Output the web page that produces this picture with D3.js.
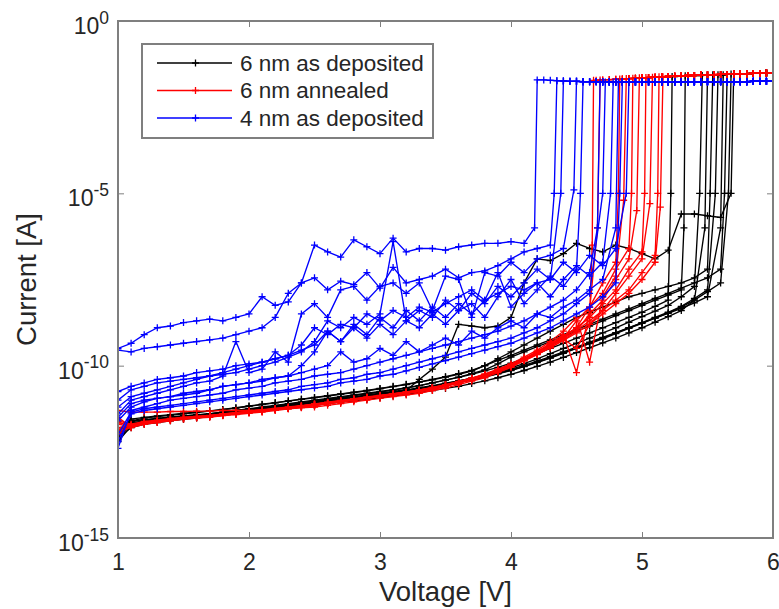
<!DOCTYPE html>
<html>
<head>
<meta charset="utf-8">
<script src="https://cdn.jsdelivr.net/npm/d3@7"></script>
<style>
  body { margin: 0; background: #fff; }
  svg { display: block; font-family: "Liberation Sans", Arial, sans-serif; }
</style>
</head>
<body>
<div id="chart"></div>
<script>
// Sweep grid (V) and compliance grid
const sweepStart = 1.0
const sweepStep = 0.1
const complianceStep = 0.05

// log10(I) values, one row per sweep, V = 1.0, 1.1, ...
const blackCurves = [
  [-12.1,-11.7,-11.62,-11.56,-11.52,-11.47,-11.44,-11.4,-11.35,-11.3,-11.25,-11.2,-11.15,-11.1,-11.05,-11.0,-10.95,-10.9,-10.85,-10.8,-10.75,-10.7,-10.64,-10.58,-10.5,-10.42,-10.34,-10.25,-10.15,-10.05,-9.93,-9.8,-9.65,-9.5,-9.35,-9.2,-9.05,-8.9,-8.75,-8.6,-8.45,-8.28,-8.1],
  [-11.95,-11.6,-11.58,-11.53,-11.5,-11.46,-11.43,-11.4,-11.36,-11.31,-11.26,-11.22,-11.17,-11.12,-11.07,-11.02,-10.97,-10.92,-10.87,-10.82,-10.77,-10.71,-10.65,-10.58,-10.5,-10.42,-10.33,-10.23,-10.12,-9.95,-9.75,-9.6,-9.45,-9.3,-9.15,-9.0,-8.85,-8.7,-8.55,-8.4,-8.25,-8.1,-7.95,-7.8],
  [-12.2,-11.75,-11.65,-11.6,-11.55,-11.52,-11.49,-11.46,-11.42,-11.37,-11.32,-11.27,-11.22,-11.17,-11.12,-11.07,-11.02,-10.98,-10.93,-10.88,-10.83,-10.78,-10.72,-10.66,-10.6,-10.52,-10.44,-10.36,-10.27,-10.17,-10.06,-9.94,-9.8,-9.65,-9.5,-9.35,-9.2,-9.05,-8.9,-8.74,-8.58,-8.42,-8.25,-8.0,-7.7],
  [-12.1,-11.8,-11.7,-11.65,-11.6,-11.56,-11.52,-11.48,-11.44,-11.4,-11.36,-11.32,-11.28,-11.24,-11.2,-11.15,-11.1,-11.06,-11.02,-10.98,-10.93,-10.88,-10.83,-10.78,-10.72,-10.66,-10.6,-10.52,-10.44,-10.35,-10.25,-10.14,-10.02,-9.9,-9.76,-9.62,-9.48,-9.34,-9.2,-9.05,-8.9,-8.74,-8.58,-8.4,-8.1],
  [-11.9,-11.55,-11.5,-11.46,-11.42,-11.38,-11.35,-11.31,-11.27,-11.22,-11.17,-11.12,-11.07,-11.02,-10.97,-10.92,-10.87,-10.82,-10.77,-10.72,-10.66,-10.6,-10.54,-10.47,-10.4,-10.32,-10.23,-10.14,-10.0,-9.8,-9.6,-9.4,-9.2,-9.0,-8.8,-8.6,-8.45,-8.3,-8.15,-8.0,-7.9,-7.8,-7.7,-7.6,-7.45,-7.2],
  [-12.05,-11.68,-11.62,-11.57,-11.53,-11.5,-11.47,-11.44,-11.4,-11.35,-11.3,-11.26,-11.21,-11.16,-11.11,-11.06,-11.01,-10.97,-10.93,-10.88,-10.83,-10.78,-10.73,-10.67,-10.61,-10.54,-10.47,-10.4,-10.32,-10.23,-10.13,-10.02,-9.9,-9.77,-9.63,-9.49,-9.35,-9.2,-9.05,-8.9,-8.75,-8.6,-8.45,-8.28,-8.05,-7.8],
  [-11.95,-11.62,-11.57,-11.53,-11.49,-11.46,-11.43,-11.39,-11.35,-11.3,-11.26,-11.22,-11.18,-11.13,-11.08,-11.03,-10.98,-10.94,-10.9,-10.85,-10.8,-10.75,-10.7,-10.64,-10.58,-10.51,-10.44,-10.37,-10.29,-10.2,-10.1,-9.99,-9.87,-9.74,-9.6,-9.46,-9.32,-9.18,-9.04,-8.9,-8.76,-8.62,-8.48,-8.34,-8.18,-8.0],
  [-12.15,-11.6,-11.52,-11.48,-11.44,-11.4,-11.36,-11.32,-11.28,-11.23,-11.18,-11.13,-11.08,-11.03,-10.98,-10.93,-10.88,-10.83,-10.78,-10.73,-10.67,-10.61,-10.55,-10.48,-10.41,-10.33,-10.25,-10.16,-10.0,-9.85,-9.7,-9.55,-9.4,-9.25,-9.1,-8.95,-8.8,-8.65,-8.5,-8.35,-8.2,-8.05,-7.9,-7.75,-7.6,-7.45,-7.2],
  [-12.0,-11.7,-11.64,-11.59,-11.55,-11.51,-11.48,-11.45,-11.41,-11.37,-11.32,-11.28,-11.24,-11.19,-11.14,-11.09,-11.04,-11.0,-10.95,-10.9,-10.85,-10.8,-10.75,-10.69,-10.63,-10.56,-10.49,-10.41,-10.33,-10.24,-10.14,-10.03,-9.91,-9.78,-9.64,-9.5,-9.36,-9.22,-9.07,-8.92,-8.77,-8.62,-8.47,-8.3,-8.1,-7.85,-7.6],
  [-12.1,-11.66,-11.6,-11.55,-11.51,-11.48,-11.45,-11.42,-11.38,-11.33,-11.28,-11.24,-11.2,-11.15,-11.1,-11.05,-11.0,-10.96,-10.92,-10.87,-10.82,-10.77,-10.72,-10.4,-10.1,-9.75,-8.8,-8.85,-8.9,-8.85,-8.6,-7.6,-6.9,-6.95,-6.75,-6.45,-6.6,-6.7,-6.5,-6.6,-6.75,-6.9,-6.65,-5.6,-5.6,-5.65,-5.7]
]
const blackBreakdown = [5.23, 5.33, 5.46, 5.5, 5.54, 5.58, 5.62, 5.65, 5.68, 5.7]
const blackJump = [-5.0, -6.0, -5.0, -6.0, -5.0, -5.0, -6.0, -5.0, -5.0, -5.0]

const redCurves = [
  [-11.3,-11.35,-11.35,-11.35,-11.33,-11.33,-11.32,-11.32,-11.3,-11.3,-11.3,-11.28,-11.27,-11.25,-11.22,-11.2,-11.15,-11.1,-11.05,-11.0,-10.95,-10.9,-10.85,-10.8,-10.72,-10.65,-10.55,-10.45,-10.35,-10.2,-10.05,-9.85,-9.65,-9.4,-9.15,-8.9,-8.6],
  [-11.9,-11.8,-11.7,-11.65,-11.6,-11.55,-11.52,-11.5,-11.45,-11.42,-11.38,-11.35,-11.3,-11.25,-11.2,-11.15,-11.1,-11.05,-11.0,-10.95,-10.9,-10.85,-10.8,-10.75,-10.7,-10.6,-10.5,-10.4,-10.3,-10.15,-10.0,-9.8,-9.6,-9.35,-9.1,-10.2,-8.4],
  [-12.0,-11.75,-11.65,-11.6,-11.55,-11.5,-11.48,-11.45,-11.42,-11.38,-11.35,-11.3,-11.27,-11.22,-11.18,-11.12,-11.08,-11.03,-10.98,-10.93,-10.88,-10.83,-10.78,-10.72,-10.65,-10.57,-10.48,-10.38,-10.27,-10.13,-9.98,-9.8,-9.6,-9.4,-9.2,-8.9,-8.3,-7.6,-7.0],
  [-11.6,-11.7,-11.62,-11.58,-11.53,-11.5,-11.47,-11.44,-11.4,-11.36,-11.32,-11.28,-11.24,-11.2,-11.16,-11.11,-11.06,-11.01,-10.96,-10.91,-10.86,-10.81,-10.76,-10.7,-10.63,-10.55,-10.46,-10.36,-10.24,-10.1,-9.95,-9.75,-9.55,-9.3,-9.0,-8.6,-9.9,-8.0,-7.4],
  [-11.8,-11.72,-11.66,-11.6,-11.56,-11.52,-11.49,-11.46,-11.43,-11.39,-11.35,-11.31,-11.27,-11.23,-11.19,-11.14,-11.09,-11.04,-10.99,-10.94,-10.89,-10.84,-10.79,-10.73,-10.66,-10.58,-10.5,-10.4,-10.28,-10.15,-10.0,-9.82,-9.62,-9.42,-9.2,-8.7,-8.3,-7.9,-7.2,-6.6],
  [-11.5,-11.78,-11.68,-11.63,-11.58,-11.54,-11.5,-11.47,-11.44,-11.4,-11.36,-11.32,-11.28,-11.24,-11.2,-11.15,-11.1,-11.05,-11.0,-10.95,-10.9,-10.85,-10.8,-10.74,-10.67,-10.59,-10.5,-10.41,-10.3,-10.17,-10.02,-9.85,-9.67,-9.48,-9.25,-9.0,-8.5,-8.1,-7.5,-6.9],
  [-11.7,-11.76,-11.67,-11.62,-11.57,-11.53,-11.5,-11.46,-11.42,-11.38,-11.34,-11.3,-11.26,-11.22,-11.17,-11.12,-11.07,-11.02,-10.97,-10.92,-10.87,-10.82,-10.77,-10.71,-10.64,-10.56,-10.47,-10.37,-10.26,-10.12,-9.97,-9.8,-9.6,-9.38,-9.15,-8.9,-8.6,-8.2,-7.8,-7.2,-6.7],
  [-11.85,-11.74,-11.66,-11.61,-11.56,-11.52,-11.48,-11.45,-11.41,-11.37,-11.33,-11.29,-11.25,-11.21,-11.17,-11.13,-11.08,-11.03,-10.98,-10.93,-10.88,-10.83,-10.78,-10.72,-10.65,-10.57,-10.48,-10.38,-10.27,-10.14,-10.0,-9.83,-9.64,-9.44,-9.22,-9.5,-8.8,-8.4,-7.9,-7.4,-6.9],
  [-11.65,-11.73,-11.65,-11.6,-11.55,-11.51,-11.48,-11.45,-11.41,-11.37,-11.33,-11.29,-11.25,-11.21,-11.17,-11.12,-11.07,-11.02,-10.97,-10.92,-10.87,-10.82,-10.77,-10.71,-10.64,-10.56,-10.47,-10.37,-10.26,-10.13,-9.98,-9.82,-9.63,-9.43,-9.21,-8.98,-8.7,-8.4,-8.1,-7.8,-7.3,-6.8],
  [-11.9,-11.77,-11.69,-11.64,-11.59,-11.55,-11.51,-11.48,-11.44,-11.4,-11.36,-11.32,-11.28,-11.24,-11.2,-11.15,-11.1,-11.05,-11.0,-10.95,-10.9,-10.85,-10.8,-10.74,-10.67,-10.59,-10.5,-10.4,-10.29,-10.16,-10.02,-9.86,-9.68,-9.48,-9.27,-9.05,-8.8,-8.5,-8.2,-7.9,-7.5,-7.0]
]
const redBreakdown = [4.63, 4.68, 4.83, 4.88, 4.93, 4.98, 5.03, 5.08, 5.13, 5.16]
const redJump = [-6.5, -6.0, -5.0, -5.2, -5.0, -5.5, -5.0, -5.3, -5.0, -5.4]

const blueCurves = [
  [-9.5,-9.35,-9.1,-8.9,-8.85,-8.75,-8.7,-8.65,-8.7,-8.6,-8.5,-8.0,-8.25,-8.15,-7.6,-6.5,-6.7,-6.85,-6.35,-6.55,-6.75,-6.3,-6.7,-6.6,-6.6,-6.65,-6.55,-6.5,-6.45,-6.45,-6.4,-6.45],
  [-9.55,-9.6,-9.5,-9.45,-9.4,-9.35,-9.3,-9.25,-9.2,-9.1,-9.0,-8.9,-8.6,-7.9,-7.6,-7.45,-7.8,-7.55,-7.65,-7.3,-7.75,-7.15,-7.6,-7.5,-7.4,-7.2,-7.45,-7.3,-7.25,-7.1,-6.9,-6.7,-6.6,-6.5],
  [-10.75,-10.6,-10.5,-10.4,-10.35,-10.3,-10.2,-10.15,-10.1,-10.0,-9.95,-9.9,-9.8,-9.7,-9.4,-8.9,-9.1,-8.8,-8.9,-8.5,-8.7,-8.4,-8.6,-8.3,-8.45,-8.2,-8.0,-7.8,-8.1,-7.9,-7.7,-7.8,-7.6,-7.5],
  [-11.4,-11.0,-10.9,-10.8,-10.7,-10.6,-10.5,-10.45,-10.3,-9.3,-10.2,-10.1,-9.6,-9.9,-8.5,-8.2,-8.6,-7.8,-7.7,-8.1,-7.7,-7.6,-7.9,-7.6,-8.4,-7.4,-7.5,-8.6,-7.3,-7.4,-7.0,-7.3,-6.9,-6.8,-6.6],
  [-11.6,-11.2,-11.05,-10.95,-10.9,-10.8,-10.75,-10.7,-10.6,-10.55,-10.5,-10.45,-10.35,-10.3,-10.0,-9.6,-9.0,-9.3,-8.9,-9.2,-8.8,-9.1,-8.7,-8.9,-8.5,-8.8,-8.4,-8.2,-8.6,-8.0,-7.5,-8.2,-7.8,-7.4,-7.7,-7.2],
  [-12.4,-11.3,-11.2,-11.1,-11.0,-10.95,-10.9,-10.85,-10.8,-10.7,-10.65,-10.6,-10.5,-10.45,-10.4,-10.3,-10.25,-10.2,-10.1,-10.0,-9.9,-9.8,-9.7,-9.6,-9.5,-9.4,-9.3,-9.2,-9.1,-9.0,-8.85,-8.7,-8.5,-8.3,-8.1,-7.8,-7.3],
  [-12.0,-11.35,-11.25,-11.2,-11.15,-11.1,-11.05,-11.0,-10.95,-10.9,-10.85,-10.8,-10.75,-10.7,-10.6,-10.55,-10.5,-10.4,-10.35,-10.25,-10.2,-10.1,-10.0,-9.9,-9.8,-9.7,-9.6,-9.5,-9.4,-9.3,-9.2,-9.05,-8.9,-8.7,-8.5,-8.2,-7.9],
  [-11.2,-10.9,-10.8,-10.7,-10.6,-10.5,-10.4,-10.3,-10.2,-10.1,-10.0,-9.9,-9.8,-9.7,-9.55,-9.4,-9.0,-9.3,-8.8,-9.1,-8.6,-8.9,-8.4,-8.7,-8.3,-8.6,-8.2,-8.5,-8.1,-7.3,-8.3,-7.9,-7.6,-8.0,-7.5,-7.1,-7.4,-7.0],
  [-11.5,-11.1,-11.0,-10.95,-10.9,-10.85,-10.8,-10.7,-10.6,-10.55,-10.5,-10.4,-10.35,-10.3,-10.2,-10.1,-10.0,-9.6,-9.9,-9.8,-9.5,-9.7,-9.3,-9.6,-9.4,-9.2,-9.4,-9.0,-9.2,-8.9,-8.7,-8.9,-8.5,-8.6,-8.3,-8.1,-7.8,-7.5],
  [-12.2,-11.4,-11.3,-11.25,-11.2,-11.15,-11.1,-11.05,-11.0,-10.95,-10.9,-10.85,-10.8,-10.75,-10.7,-10.65,-10.6,-10.5,-10.45,-10.4,-10.3,-10.25,-10.15,-10.05,-9.95,-9.85,-9.75,-9.65,-9.55,-9.45,-9.35,-9.2,-9.05,-8.9,-8.7,-8.5,-8.3,-8.0,-7.6],
  [-11.0,-10.7,-10.6,-10.5,-10.45,-10.4,-10.35,-10.3,-10.25,-10.2,-10.1,-10.0,-9.9,-9.75,-9.6,-9.3,-8.7,-8.9,-8.6,-8.8,-8.5,-6.4,-8.7,-8.4,-8.6,-8.1,-8.4,-7.9,-8.2,-7.7,-8.0,-7.6,-7.2,-7.5,-7.0,-7.3,-6.8,-7.1,-6.6]
]
const blueBreakdown = [4.2, 4.35, 4.4, 4.5, 4.55, 4.68, 4.72, 4.78, 4.82, 4.85, 4.9]
const blueJump = [-6.0, -5.0, -5.0, -4.9, -5.0, -6.0, -5.0, -5.0, -6.0, -5.0, -5.0]

// compliance plateau after breakdown, log10(I) every 0.05 V
const blackComplianceStart = 5.2
const blackCompliance = [-1.62,-1.61,-1.6,-1.59,-1.58,-1.58,-1.57,-1.56,-1.56,-1.55,-1.54,-1.54,-1.53,-1.52,-1.52,-1.51,-1.5]
const redComplianceStart = 4.6
const redCompliance = [-1.73,-1.72,-1.71,-1.7,-1.69,-1.68,-1.67,-1.66,-1.65,-1.64,-1.63,-1.62,-1.61,-1.6,-1.59,-1.58,-1.58,-1.57,-1.57,-1.56,-1.55,-1.55,-1.54,-1.53,-1.53,-1.52,-1.52,-1.51,-1.51]
const blueComplianceStart = 4.2
const blueCompliance = [-1.71,-1.71,-1.72,-1.73,-1.74,-1.75,-1.75,-1.76,-1.76,-1.76,-1.77,-1.77,-1.77,-1.77,-1.77,-1.77,-1.77,-1.77,-1.77,-1.77,-1.77,-1.77,-1.77,-1.77,-1.77,-1.76,-1.76,-1.76,-1.76,-1.76,-1.76,-1.76,-1.76,-1.75,-1.75,-1.75,-1.75]

const legendLabels = ["6 nm as deposited", "6 nm annealed", "4 nm as deposited"]
const xTicks = [1, 2, 3, 4, 5, 6]
const yTicks = [1e-15, 1e-10, 1e-5, 1]
const yTickExp = ["-15", "-10", "-5", "0"]

// Variables
let dimensions = {
  width: 779,
  height: 609,
  margin: { top: 21, right: 6, bottom: 71, left: 118 },
}
dimensions.boundedWidth = dimensions.width - dimensions.margin.left - dimensions.margin.right
dimensions.boundedHeight = dimensions.height - dimensions.margin.top - dimensions.margin.bottom

const axisColor = "#7f7f7f"
const textColor = "#262626"

const wrapper = d3.select("#chart")
  .append("svg")
  .attr("width", dimensions.width)
  .attr("height", dimensions.height)
const bounds = wrapper.append("g")
  .attr("transform", `translate(${dimensions.margin.left},${dimensions.margin.top})`)

// Scales
const xScale = d3.scaleLinear()
  .domain([1, 6])
  .range([0, dimensions.boundedWidth])
const yScale = d3.scaleLog()
  .domain([1e-15, 1])
  .range([dimensions.boundedHeight, 0])

// build one sweep: measured points, jump point, then compliance plateau
const buildSweep = (pre, breakdown, jump, compStart, comp) => {
  const pts = pre.map((v, i) => [sweepStart + i * sweepStep, v])
  const lastV = pts[pts.length - 1][0]
  pts.push([Math.max(breakdown - 0.02, lastV + 0.02), jump])
  const compV = comp.map((v, i) => [compStart + i * complianceStep, v])
  const nearest = compV.reduce((a, b) => Math.abs(b[0] - breakdown) < Math.abs(a[0] - breakdown) ? b : a)
  pts.push([breakdown, nearest[1]])
  compV.filter(d => d[0] > breakdown + 0.01).forEach(d => pts.push(d))
  return pts
}

const families = [
  { color: "#000000", curves: blackCurves, bd: blackBreakdown, jump: blackJump, cs: blackComplianceStart, comp: blackCompliance },
  { color: "#ff0000", curves: redCurves, bd: redBreakdown, jump: redJump, cs: redComplianceStart, comp: redCompliance },
  { color: "#0000ff", curves: blueCurves, bd: blueBreakdown, jump: blueJump, cs: blueComplianceStart, comp: blueCompliance },
]

const lineGen = d3.line()
  .x(d => xScale(d[0]))
  .y(d => yScale(Math.pow(10, d[1])))

const plusPath = (pts, s) => pts.map(d => {
  const px = xScale(d[0]), py = yScale(Math.pow(10, d[1]))
  return `M${px - s},${py}h${2 * s}M${px},${py - s}v${2 * s}`
}).join("")

bounds.append("defs").append("clipPath")
  .attr("id", "plot-clip")
  .append("rect")
  .attr("width", dimensions.boundedWidth)
  .attr("height", dimensions.boundedHeight)

const plot = bounds.append("g").attr("clip-path", "url(#plot-clip)")

families.forEach(fam => {
  const g = plot.append("g")
  fam.curves.forEach((pre, i) => {
    const pts = buildSweep(pre, fam.bd[i], fam.jump[i], fam.cs, fam.comp)
    g.append("path")
      .attr("d", lineGen(pts))
      .attr("fill", "none")
      .attr("stroke", fam.color)
      .attr("stroke-width", 1.35)
      .attr("stroke-linejoin", "round")
    g.append("path")
      .attr("d", plusPath(pts, 3.5))
      .attr("fill", "none")
      .attr("stroke", fam.color)
      .attr("stroke-width", 1.3)
  })
})

// axes (ticks inward on all four sides)
const styleAxis = sel => {
  sel.select(".domain").remove()
  sel.selectAll(".tick line").attr("stroke", axisColor)
  sel.selectAll("text")
    .attr("fill", textColor)
    .attr("font-family", "Liberation Sans, Arial, sans-serif")
}

const xAxis = bounds.append("g")
  .attr("transform", `translate(0,${dimensions.boundedHeight})`)
  .call(d3.axisBottom(xScale).tickValues(xTicks).tickSize(-6).tickPadding(16).tickFormat(d3.format("d")))
  .call(styleAxis)
xAxis.selectAll("text").attr("font-size", 23)

bounds.append("g")
  .call(d3.axisTop(xScale).tickValues(xTicks).tickSize(-6).tickFormat(""))
  .call(styleAxis)

const yAxis = bounds.append("g")
  .call(d3.axisLeft(yScale).tickValues(yTicks).tickSize(-6).tickPadding(9).tickFormat(""))
  .call(styleAxis)

yAxis.selectAll(".tick text").each(function (d, i) {
  const t = d3.select(this)
    .attr("dy", null)
    .attr("y", 12.5)
    .attr("font-size", 23)
  t.append("tspan").text("10")
  t.append("tspan")
    .attr("dy", -10.5)
    .attr("font-size", 17.5)
    .text(yTickExp[i])
})

bounds.append("g")
  .attr("transform", `translate(${dimensions.boundedWidth},0)`)
  .call(d3.axisRight(yScale).tickValues(yTicks).tickSize(-6).tickFormat(""))
  .call(styleAxis)

// box
bounds.append("rect")
  .attr("width", dimensions.boundedWidth)
  .attr("height", dimensions.boundedHeight)
  .attr("fill", "none")
  .attr("stroke", axisColor)
  .attr("stroke-width", 2)

// axis labels
wrapper.append("text")
  .attr("x", dimensions.margin.left + dimensions.boundedWidth / 2)
  .attr("y", 601)
  .attr("text-anchor", "middle")
  .attr("font-size", 27.5)
  .attr("fill", textColor)
  .text("Voltage [V]")

wrapper.append("text")
  .attr("transform", `translate(36,${dimensions.margin.top + dimensions.boundedHeight / 2}) rotate(-90)`)
  .attr("text-anchor", "middle")
  .attr("font-size", 27.5)
  .attr("fill", textColor)
  .text("Current [A]")

// legend
const legend = wrapper.append("g").attr("transform", "translate(142,44)")
legend.append("rect")
  .attr("width", 291)
  .attr("height", 94)
  .attr("fill", "#fff")
  .attr("stroke", axisColor)
  .attr("stroke-width", 2)

const legendRows = legend.selectAll(".row")
  .data(families)
  .join("g")
  .attr("transform", (d, i) => `translate(0,${19 + i * 27.5})`)

legendRows.append("line")
  .attr("x1", 15).attr("x2", 90)
  .attr("stroke", d => d.color)
  .attr("stroke-width", 1.3)
legendRows.append("path")
  .attr("d", "M50,0h7M53.5,-3.5v7")
  .attr("stroke", d => d.color)
  .attr("stroke-width", 1.3)
legendRows.append("text")
  .attr("x", 98)
  .attr("dy", "0.35em")
  .attr("font-size", 22.5)
  .attr("fill", textColor)
  .text((d, i) => legendLabels[i])
</script>
</body>
</html>
